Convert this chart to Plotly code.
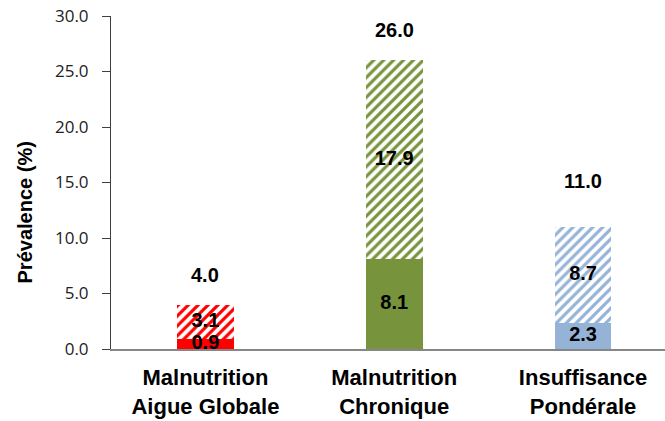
import plotly.graph_objects as go

categories = ["Malnutrition<br>Aigue Globale", "Malnutrition<br>Chronique", "Insuffisance<br>Pondérale"]
lower_values = [0.9, 8.1, 2.3]
upper_values = [3.1, 17.9, 8.7]
totals = [4.0, 26.0, 11.0]
y_ticks = [0, 5, 10, 15, 20, 25, 30]

colors = ["#FF0000", "#77933C", "#95B3D7"]
total_label_shift = [30, 30, 46]

x_idx = list(range(len(categories)))
bar_w = 0.3
label_font = dict(family="Liberation Sans, Arial", size=20, color="black")

fig = go.Figure()

# Solid lower segment
fig.add_trace(go.Bar(
    x=x_idx, y=lower_values, width=bar_w,
    marker=dict(color=colors, line=dict(width=0)),
    showlegend=False, hoverinfo="skip",
))
# Hatched upper segment
fig.add_trace(go.Bar(
    x=x_idx, y=upper_values, width=bar_w,
    marker=dict(
        color="white",
        line=dict(width=0),
        pattern=dict(shape="/", fgcolor=colors, bgcolor="white",
                     size=7, solidity=0.45, fillmode="replace"),
    ),
    showlegend=False, hoverinfo="skip",
))

# Segment value labels at segment midpoints
mid_lower = [v / 2 for v in lower_values]
mid_upper = [l + u / 2 for l, u in zip(lower_values, upper_values)]
fig.add_trace(go.Scatter(
    x=x_idx + x_idx, y=mid_lower + mid_upper, mode="text",
    text=[f"<b>{v:.1f}</b>" for v in lower_values + upper_values],
    textfont=label_font, textposition="middle center",
    showlegend=False, hoverinfo="skip", cliponaxis=False,
))

# Totals above the bars
for i, t in enumerate(totals):
    fig.add_annotation(
        x=i, y=t, text=f"<b>{t:.1f}</b>", showarrow=False,
        yshift=total_label_shift[i], font=label_font,
    )

# Y axis title
fig.add_annotation(
    xref="paper", yref="paper", x=0, y=0.41, xshift=-99,
    text="<b>Prévalence (%)</b>", textangle=-90, showarrow=False,
    font=dict(family="Liberation Sans, Arial", size=20, color="black"),
)

fig.update_layout(
    width=665, height=421,
    margin=dict(l=111, r=0, t=16, b=72),
    paper_bgcolor="white", plot_bgcolor="white",
    barmode="stack",
    xaxis=dict(
        range=[-0.5, 2.434], tickmode="array", tickvals=x_idx,
        ticktext=[f"<b>{c}</b>" for c in categories],
        tickfont=dict(family="Liberation Sans, Arial", size=22, color="black"),
        showline=True, linecolor="#868686", linewidth=1.5,
        ticks="", showgrid=False, zeroline=False,
        ticklabelstandoff=8,
    ),
    yaxis=dict(
        range=[0, 30], tickmode="array", tickvals=y_ticks,
        ticktext=[f"{v:.1f}" for v in y_ticks],
        tickfont=dict(family="Open Sans, Liberation Sans", size=17, color="#222222"),
        showline=True, linecolor="#404040", linewidth=1,
        ticks="outside", ticklen=8, tickcolor="#404040",
        ticklabelstandoff=10,
        showgrid=False, zeroline=False,
    ),
)

fig.write_html("out.html")
